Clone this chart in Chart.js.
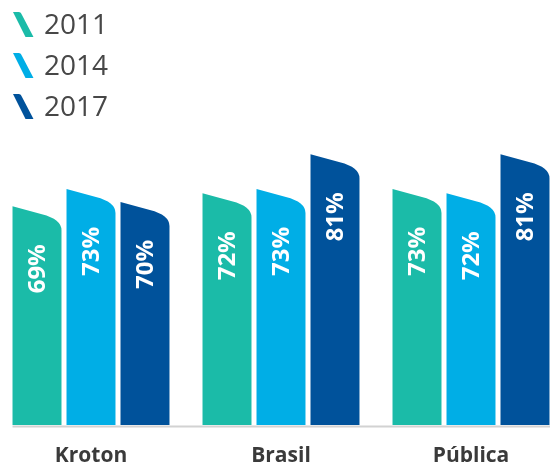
<!DOCTYPE html>
<html>
<head>
<meta charset="utf-8">
<script src="https://cdn.jsdelivr.net/npm/chart.js@4.4.0/dist/chart.umd.min.js"></script>
<style>
  html, body { margin: 0; padding: 0; background: #fff; overflow: hidden; }
  /* a área do gráfico passa um pouco das bordas da página */
  #wrap { width: 570px; height: 467px; position: relative; margin-left: -4px; }
</style>
</head>
<body>
<div id="wrap"><canvas id="chart"></canvas></div>
<script>
// dados
const categories = ['Kroton', 'Brasil', 'Pública'];
const years = ['2011', '2014', '2017'];
const values2011 = [69, 72, 73];
const values2014 = [73, 73, 72];
const values2017 = [70, 81, 81];

const colors = ['#1bbba8', '#00aee6', '#00529b'];
const axisMin = 18.5;
const axisMax = 100;
const shiftX = 4; // deslocamento do canvas em relação à página

// barras com topo inclinado e canto arredondado
const slantBars = {
    id: 'slantBars',
    beforeDatasetDraw(chart, args) {
        const ctx = chart.ctx;
        ctx.save();
        ctx.fillStyle = chart.data.datasets[args.index].backgroundColor;
        args.meta.data.forEach(bar => {
            const p = bar.getProps(['x', 'y', 'base', 'width'], true);
            const L = p.x - p.width / 2;
            const R = p.x + p.width / 2;
            ctx.beginPath();
            ctx.moveTo(L, p.base);
            ctx.lineTo(L, p.y);
            ctx.lineTo(L + p.width * 0.6, p.y + 8);
            ctx.quadraticCurveTo(R, p.y + 13, R, p.y + 24);
            ctx.lineTo(R, p.base);
            ctx.closePath();
            ctx.fill();
        });
        ctx.restore();
        return false;
    },
    afterDatasetsDraw(chart) {
        const ctx = chart.ctx;
        ctx.save();
        // linha de base
        const first = chart.getDatasetMeta(0).data[0];
        const base = first.base;
        ctx.strokeStyle = '#d2d2d2';
        ctx.lineWidth = 2;
        ctx.beginPath();
        ctx.moveTo(first.x - first.width / 2, base + 1.5);
        ctx.lineTo(chart.width, base + 1.5);
        ctx.stroke();

        // rótulos de valor
        ctx.fillStyle = '#ffffff';
        ctx.font = 'bold 24px "Open Sans"';
        ctx.textAlign = 'right';
        ctx.textBaseline = 'middle';
        chart.data.datasets.forEach((ds, i) => {
            chart.getDatasetMeta(i).data.forEach((bar, j) => {
                ctx.save();
                ctx.translate(bar.x + 1, bar.y + 38);
                ctx.rotate(-Math.PI / 2);
                ctx.fillText(ds.data[j] + '%', 0, 0);
                ctx.restore();
            });
        });
        ctx.restore();
    },
    afterDraw(chart) {
        // legenda vertical
        const ctx = chart.ctx;
        ctx.save();
        chart.data.datasets.forEach((ds, i) => {
            const top = 12 + i * 41;
            const x0 = 13 + shiftX;
            ctx.fillStyle = ds.backgroundColor;
            ctx.beginPath();
            ctx.moveTo(x0, top);
            ctx.lineTo(x0 + 6, top);
            ctx.quadraticCurveTo(x0 + 8, top, x0 + 9, top + 3);
            ctx.lineTo(x0 + 20.5, top + 25);
            ctx.lineTo(x0 + 12.5, top + 25);
            ctx.closePath();
            ctx.fill();

            ctx.fillStyle = '#474747';
            ctx.font = '28px "Open Sans"';
            ctx.textAlign = 'left';
            ctx.textBaseline = 'middle';
            ctx.fillText(ds.label, 44 + shiftX, top + 14);
        });
        ctx.restore();
    }
};

const ctx = document.getElementById('chart').getContext('2d');
new Chart(ctx, {
    type: 'bar',
    data: {
        labels: categories,
        datasets: [
            { label: years[0], data: values2011, backgroundColor: colors[0], base: axisMin },
            { label: years[1], data: values2014, backgroundColor: colors[1], base: axisMin },
            { label: years[2], data: values2017, backgroundColor: colors[2], base: axisMin }
        ]
    },
    options: {
        responsive: true,
        maintainAspectRatio: false,
        animation: false,
        categoryPercentage: 0.8526,
        barPercentage: 0.907,
        layout: {
            padding: { top: 72, left: 0, right: 0, bottom: 0 }
        },
        plugins: {
            legend: { display: false },
            tooltip: { enabled: false }
        },
        scales: {
            x: {
                grid: { display: false, drawTicks: false },
                border: { display: false },
                ticks: {
                    color: '#3a3a3a',
                    font: { family: '"Open Sans"', size: 21, weight: 'bold' },
                    padding: 18
                },
                afterFit(scale) {
                    scale.height = 42;
                }
            },
            y: {
                display: false,
                min: axisMin,
                max: axisMax
            }
        }
    },
    plugins: [slantBars]
});
</script>
</body>
</html>
